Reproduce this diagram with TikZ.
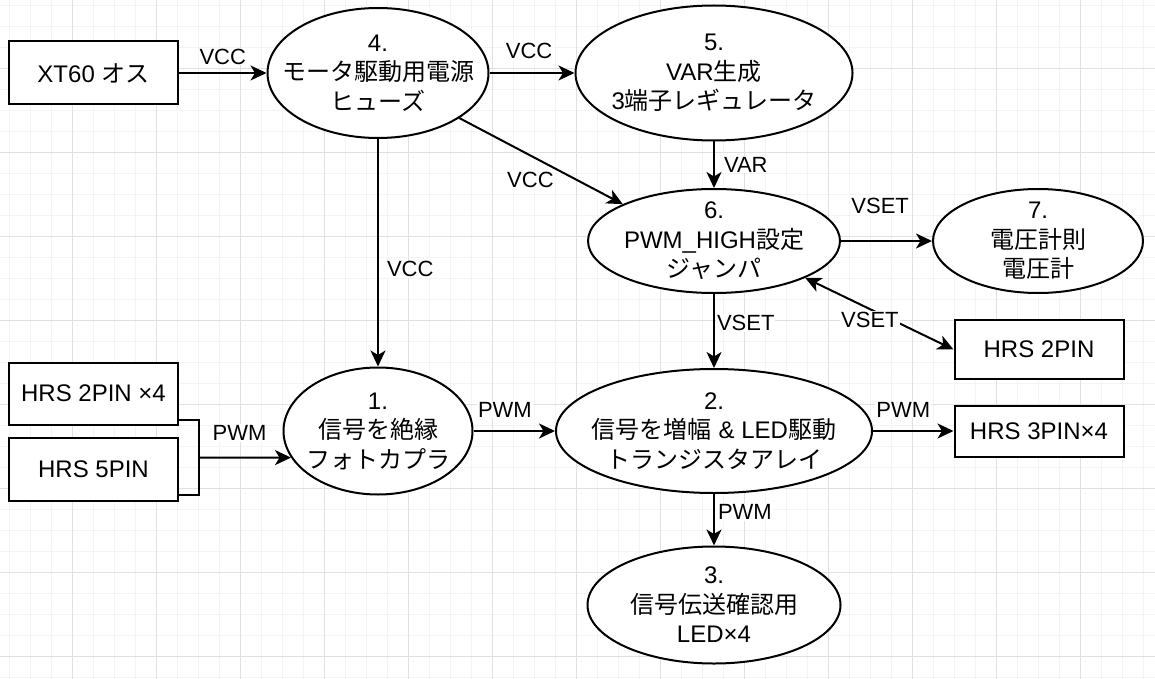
\documentclass[tikz,border=0pt]{standalone}
\usepackage{fontspec}
\setmainfont{Liberation Sans}
\newfontfamily\jp{Noto Sans CJK JP}
\usetikzlibrary{shapes.geometric,arrows.meta}

\definecolor{gridmin}{HTML}{F4F4F4}
\definecolor{gridmaj}{HTML}{E0E0E0}

\tikzset{
box/.style={draw, line width=2pt, fill=white, minimum width=169pt, font=\fontsize{24}{29}\selectfont},
proc/.style={ellipse, draw, line width=2pt, fill=white, inner sep=0pt},
ptext/.style={font=\fontsize{24}{29.5}\selectfont, align=center},
lbl/.style={font=\fontsize{22}{26}\selectfont, fill=white, inner sep=1pt},
conn/.style={line width=2pt, -{Stealth[length=16pt,width=15pt,inset=4.5pt]}},
biconn/.style={line width=2pt, {Stealth[length=16pt,width=15pt,inset=4.5pt]}-{Stealth[length=16pt,width=15pt,inset=4.5pt]}},
link/.style={line width=2pt},
}

\begin{document}
\begin{tikzpicture}[x=1pt,y=-1pt]
\useasboundingbox (0,0) rectangle (1155,679);

% Background grid
\foreach \i in {0,...,54} {
\draw[gridmin, line width=1pt] ({9.3+21*\i},0) -- ({9.3+21*\i},679);
}
\foreach \i in {0,...,32} {
\draw[gridmin, line width=1pt] (0,{5.3+21*\i}) -- (1155,{5.3+21*\i});
}
\foreach \i in {0,...,12} {
\draw[gridmaj, line width=1pt] ({72.3+84*\i},0) -- ({72.3+84*\i},679);
}
\foreach \i in {0,...,7} {
\draw[gridmaj, line width=1pt] (0,{68.3+84*\i}) -- (1155,{68.3+84*\i});
}

% Connectors and sources
\node[box, minimum height=63pt] (xt60) at (93.5,73) {XT60 {\jp オス}};
\node[box, minimum height=62pt] (h2x4) at (93.5,393.5) {HRS 2PIN ×4};
\node[box, minimum height=63pt] (h5) at (93.5,469) {HRS 5PIN};
\node[box, minimum height=59pt] (hrs2) at (1039,349.5) {HRS 2PIN};
\node[box, minimum height=51pt] (hrs3) at (1039,431) {HRS 3PIN×4};
\coordinate (mrg) at (199,457.6);

% Processing blocks
\node[proc, minimum width=221pt, minimum height=130pt,
label={[ptext]center:{4.\\{\jp モータ駆動用電源}\\{\jp ヒューズ}}}] (n4) at (378,73) {};
\node[proc, minimum width=277pt, minimum height=135pt,
label={[ptext]center:{5.\\VAR{\jp 生成}\\3{\jp 端子レギュレータ}}}] (n5) at (714,73) {};
\node[proc, minimum width=252pt, minimum height=104pt,
label={[ptext]center:{6.\\PWM\_HIGH{\jp 設定}\\{\jp ジャンパ}}}] (n6) at (714,241) {};
\node[proc, minimum width=210pt, minimum height=104pt,
label={[ptext]center:{7.\\{\jp 電圧計則}\\{\jp 電圧計}}}] (n7) at (1038,241) {};
\node[proc, minimum width=189pt, minimum height=127pt,
label={[ptext]center:{1.\\{\jp 信号を絶縁}\\{\jp フォトカプラ}}}] (n1) at (378,431) {};
\node[proc, minimum width=316pt, minimum height=124pt,
label={[ptext]center:{2.\\{\jp 信号を増幅} \& LED{\jp 駆動}\\{\jp トランジスタアレイ}}}] (n2) at (714,431) {};
\node[proc, minimum width=253pt, minimum height=117pt,
label={[ptext]center:{3.\\{\jp 信号伝送確認用}\\LED×4}}] (n3) at (714,605) {};

% Power lines
\draw[conn] (xt60) -- node[lbl, pos=0.5, above=6.6pt] {VCC} (n4);
\draw[conn] (n4) -- node[lbl, pos=0.466, above=12.6pt] {VCC} (n5);
\draw[conn] (n4.331) -- node[lbl, pos=0.435, yshift=-24pt] {VCC} (n6.158);
\draw[conn] (n4) -- node[lbl, pos=0.573, right=7pt] {VCC} (n1);
\draw[conn] (n5) -- node[lbl, pos=0.5, right=8pt] {VAR} (n6);

% VSET lines
\draw[conn] (n6) -- node[lbl, pos=0.43, above=25.6pt] {VSET} (n7);
\draw[biconn] (n6.338) -- node[lbl, pos=0.436, yshift=-10.5pt] {VSET} (hrs2.west);
\draw[conn] (n6) -- node[lbl, pos=0.39, right=1pt] {VSET} (n2);

% PWM signal path
\draw[link] ([yshift=5.7pt]h2x4.south east) -| (mrg);
\draw[link] ([yshift=6.7pt]h5.south east) -| (mrg);
\draw[conn] (mrg) -- node[lbl, pos=0.44, above=15pt] {PWM} (n1.197);
\draw[conn] (n1) -- node[lbl, pos=0.385, above=12pt] {PWM} (n2);
\draw[conn] (n2) -- node[lbl, pos=0.376, above=12pt] {PWM} (hrs3);
\draw[conn] (n2) -- node[lbl, pos=0.355, right=2pt] {PWM} (n3);

\end{tikzpicture}
\end{document}
